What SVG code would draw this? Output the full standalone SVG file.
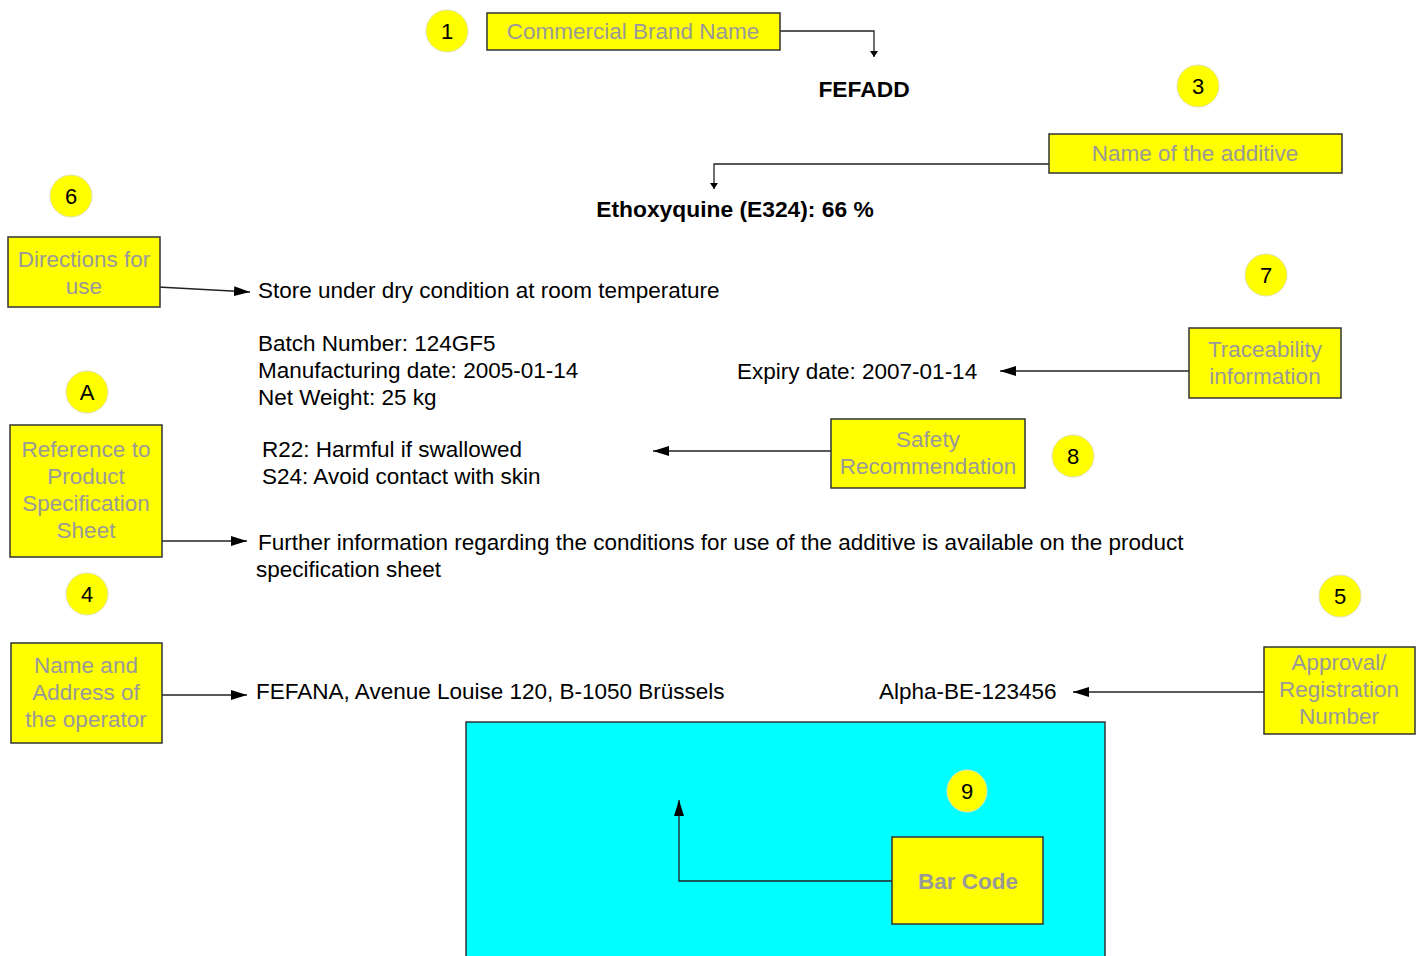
<svg xmlns="http://www.w3.org/2000/svg" width="1423" height="956" viewBox="0 0 1423 956">
<defs>
<style>
.box{fill:#ffff00;stroke:#333;stroke-width:1.5}
.num{fill:#ffff00;stroke:#e2e2b0;stroke-width:1}
.lbl{font-family:"Liberation Sans",Arial,sans-serif;font-size:22.5px;fill:#999;text-anchor:middle}
.numt{font-family:"Liberation Sans",Arial,sans-serif;font-size:22px;fill:#000;text-anchor:middle}
.txt{font-family:"Liberation Sans",Arial,sans-serif;font-size:22.5px;fill:#000}
.bold{font-family:"Liberation Sans",Arial,sans-serif;font-size:22.8px;font-weight:bold;fill:#000}
.con{fill:none;stroke:#222;stroke-width:1.3}
</style>
<marker id="big" markerUnits="userSpaceOnUse" markerWidth="17" markerHeight="11" refX="16" refY="5" orient="auto">
<path d="M0,0 L16,5 L0,10 z" fill="#000"/>
</marker>
<marker id="small" markerUnits="userSpaceOnUse" markerWidth="8" markerHeight="9" refX="6" refY="4" orient="auto">
<path d="M0,0 L6,4 L0,8 z" fill="#000"/>
</marker>
</defs>
<rect width="1423" height="956" fill="#fff"/>

<g id="label-area">
<rect x="466" y="722" width="639" height="240" fill="#00ffff" stroke="#333" stroke-width="1.5"/>
</g>

<g id="connectors">
<path class="con" d="M780,31 H874 V57" marker-end="url(#small)"/>
<path class="con" d="M1049,164 H714 V189" marker-end="url(#small)"/>
<path class="con" d="M158,287 L250,292" marker-end="url(#big)"/>
<path class="con" d="M1189,371 H1000" marker-end="url(#big)"/>
<path class="con" d="M831,451 H653" marker-end="url(#big)"/>
<path class="con" d="M162,541 H247" marker-end="url(#big)"/>
<path class="con" d="M162,695 H247" marker-end="url(#big)"/>
<path class="con" d="M1264,692 H1073" marker-end="url(#big)"/>
<path class="con" d="M892,881 H679 V800" marker-end="url(#big)"/>
</g>

<g id="texts">
<text class="bold" x="864" y="97" text-anchor="middle">FEFADD</text>
<text class="bold" x="735" y="217" text-anchor="middle">Ethoxyquine (E324): 66 %</text>
<text class="txt" x="258" y="298">Store under dry condition at room temperature</text>
<text class="txt" x="258" y="351">Batch Number: 124GF5</text>
<text class="txt" x="258" y="378">Manufacturing date: 2005-01-14</text>
<text class="txt" x="258" y="405">Net Weight: 25 kg</text>
<text class="txt" x="737" y="379">Expiry date: 2007-01-14</text>
<text class="txt" x="262" y="457">R22: Harmful if swallowed</text>
<text class="txt" x="262" y="484">S24: Avoid contact with skin</text>
<text class="txt" x="258" y="550">Further information regarding the conditions for use of the additive is available on the product</text>
<text class="txt" x="256" y="577">specification sheet</text>
<text class="txt" x="256" y="699">FEFANA, Avenue Louise 120, B-1050 Brüssels</text>
<text class="txt" x="879" y="699">Alpha-BE-123456</text>
</g>

<g id="n1">
<circle class="num" cx="447" cy="31" r="21"/>
<text class="numt" x="447" y="39">1</text>
</g>
<g id="brand">
<rect class="box" x="487" y="13" width="293" height="37"/>
<text class="lbl" x="633" y="39">Commercial Brand Name</text>
</g>

<g id="n3">
<circle class="num" cx="1198" cy="86" r="21"/>
<text class="numt" x="1198" y="94">3</text>
</g>
<g id="additive">
<rect class="box" x="1049" y="134" width="293" height="39"/>
<text class="lbl" x="1195" y="161">Name of the additive</text>
</g>

<g id="n6">
<circle class="num" cx="71" cy="196" r="21"/>
<text class="numt" x="71" y="204">6</text>
</g>
<g id="directions">
<rect class="box" x="8" y="237" width="152" height="70"/>
<text class="lbl" x="84" y="267">Directions for</text>
<text class="lbl" x="84" y="294">use</text>
</g>

<g id="n7">
<circle class="num" cx="1266" cy="275" r="21"/>
<text class="numt" x="1266" y="283">7</text>
</g>
<g id="traceability">
<rect class="box" x="1189" y="328" width="152" height="70"/>
<text class="lbl" x="1265" y="357">Traceability</text>
<text class="lbl" x="1265" y="384">information</text>
</g>

<g id="nA">
<circle class="num" cx="87" cy="392" r="21"/>
<text class="numt" x="87" y="400">A</text>
</g>
<g id="reference">
<rect class="box" x="10" y="425" width="152" height="132"/>
<text class="lbl" x="86" y="457">Reference to</text>
<text class="lbl" x="86" y="484">Product</text>
<text class="lbl" x="86" y="511">Specification</text>
<text class="lbl" x="86" y="538">Sheet</text>
</g>

<g id="safety">
<rect class="box" x="831" y="419" width="194" height="69"/>
<text class="lbl" x="928" y="447">Safety</text>
<text class="lbl" x="928" y="474">Recommendation</text>
</g>
<g id="n8">
<circle class="num" cx="1073" cy="456" r="21"/>
<text class="numt" x="1073" y="464">8</text>
</g>

<g id="n4">
<circle class="num" cx="87" cy="594" r="21"/>
<text class="numt" x="87" y="602">4</text>
</g>
<g id="operator">
<rect class="box" x="11" y="643" width="151" height="100"/>
<text class="lbl" x="86" y="673">Name and</text>
<text class="lbl" x="86" y="700">Address of</text>
<text class="lbl" x="86" y="727">the operator</text>
</g>

<g id="n5">
<circle class="num" cx="1340" cy="596" r="21"/>
<text class="numt" x="1340" y="604">5</text>
</g>
<g id="approval">
<rect class="box" x="1264" y="647" width="151" height="87"/>
<text class="lbl" x="1339" y="670">Approval/</text>
<text class="lbl" x="1339" y="697">Registration</text>
<text class="lbl" x="1339" y="724">Number</text>
</g>

<g id="n9">
<ellipse class="num" cx="967" cy="791" rx="20" ry="21"/>
<text class="numt" x="967" y="799">9</text>
</g>
<g id="barcode">
<rect class="box" x="892" y="837" width="151" height="87"/>
<text class="lbl" x="968" y="889" font-weight="bold">Bar Code</text>
</g>
</svg>
